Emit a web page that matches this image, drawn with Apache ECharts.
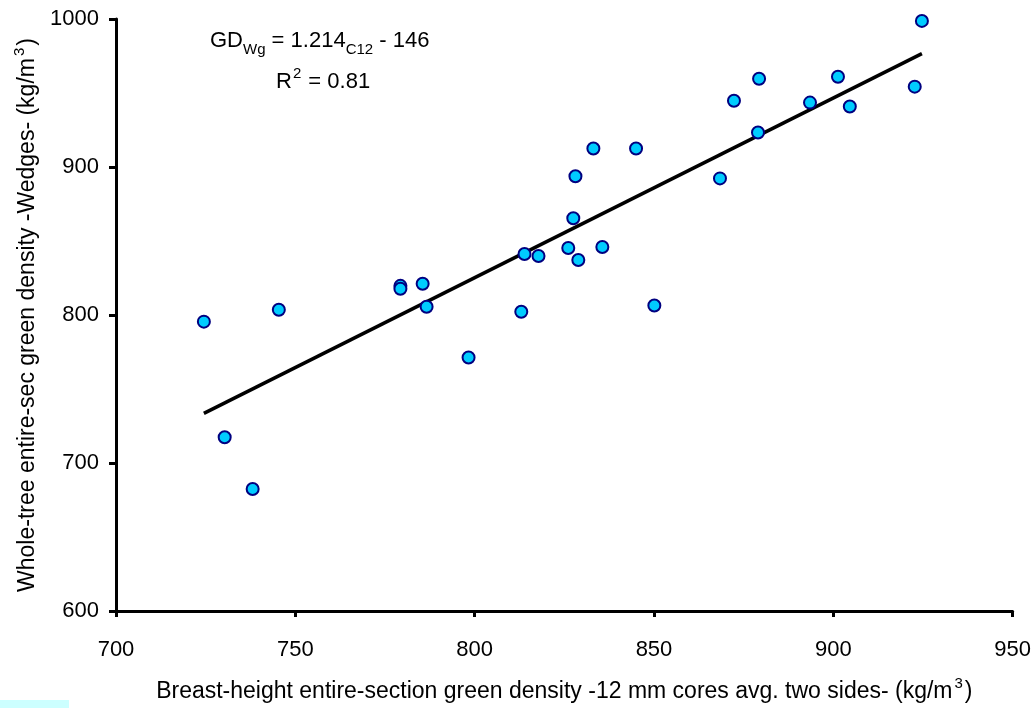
<!DOCTYPE html>
<html>
<head>
<meta charset="utf-8">
<script src="https://cdn.jsdelivr.net/npm/echarts@6/dist/echarts.min.js"></script>
<style>html,body{margin:0;padding:0;background:#fff;}#c{width:1034px;height:708px;}</style>
</head>
<body>
<div id="c"></div>
<script>
// Breast-height core density (x) and whole-tree wedge density (y), kg/m3
const coreDensity = [724.5, 730.3, 738.1, 745.4, 779.3, 779.3, 785.5, 786.6, 798.3, 813.0,
  813.9, 817.8, 826.1, 827.5, 828.1, 828.9, 835.6, 833.1, 850.1, 845.0,
  868.4, 872.3, 879.3, 879.0, 893.5, 901.3, 904.6, 922.7, 924.7];
const wedgeDensity = [795.5, 717.4, 682.4, 803.5, 819.7, 817.7, 821.1, 805.6, 771.3, 802.2,
  841.2, 839.9, 845.3, 865.4, 893.7, 837.2, 845.9, 912.5, 806.4, 912.5,
  892.3, 944.8, 959.6, 923.3, 943.5, 961.0, 940.9, 954.3, 998.7];
const slope = 1.214;
const intercept = -146;
const xTicks = [700, 750, 800, 850, 900, 950];
const yTicks = [600, 700, 800, 900, 1000];

const points = coreDensity.map((x, i) => [x, wedgeDensity[i]]);
const xMin = Math.min(...coreDensity), xMax = Math.max(...coreDensity);
const fitLine = [[xMin, slope * xMin + intercept], [xMax, slope * xMax + intercept]];

const FONT = 'Liberation Sans, Arial, sans-serif';
const nameRich = {
  n: { color: '#000', fontSize: 23, fontFamily: FONT, verticalAlign: 'bottom' },
  sup: { color: '#000', fontSize: 15, fontFamily: FONT, verticalAlign: 'top', padding: [0, 2, 12, 2] }
};
const chart = echarts.init(document.getElementById('c'));
chart.setOption({
  backgroundColor: '#ffffff',
  animation: false,
  grid: { left: 116, right: 20, top: 19, bottom: 94.5, containLabel: false },
  xAxis: {
    type: 'value', min: xTicks[0], max: xTicks[xTicks.length - 1], interval: 50,
    splitLine: { show: false },
    axisLine: { onZero: false, lineStyle: { color: '#000', width: 3 } },
    axisTick: { show: true, length: 6, lineStyle: { color: '#000', width: 3 } },
    axisLabel: { color: '#000', fontSize: 22, fontFamily: FONT, margin: 28, formatter: v => String(v) },
    name: '{n|Breast-height entire-section green density -12 mm cores avg. two sides- (kg/m}{sup|3}{n|)}',
    nameLocation: 'middle', nameGap: 65,
    nameTextStyle: { rich: nameRich }
  },
  yAxis: {
    type: 'value', min: yTicks[0], max: yTicks[yTicks.length - 1], interval: 100,
    splitLine: { show: false },
    axisLine: { onZero: false, lineStyle: { color: '#000', width: 3 } },
    axisTick: { show: true, length: 7, lineStyle: { color: '#000', width: 3 } },
    axisLabel: { color: '#000', fontSize: 22, fontFamily: FONT, margin: 17, formatter: v => String(v) },
    name: '{n|Whole-tree entire-sec green density -Wedges- (kg/m}{sup|3}{n|)}',
    nameLocation: 'middle', nameGap: 57, nameRotate: 90,
    nameTextStyle: { rich: nameRich }
  },
  series: [
    {
      type: 'line', data: fitLine, symbol: 'none', silent: true,
      lineStyle: { color: '#000', width: 3.5 }, z: 2
    },
    {
      type: 'scatter', data: points, symbol: 'circle', symbolSize: 12,
      itemStyle: { color: '#00ccff', borderColor: '#000080', borderWidth: 2, opacity: 1 }, z: 3
    }
  ],
  graphic: [
    {
      type: 'text', left: 210, top: 30,
      style: {
        text: '{n|GD}{sub|Wg}{n| = 1.214}{sub|C12}{n| - 146}',
        rich: {
          n: { fill: '#000', fontSize: 22, fontFamily: FONT, verticalAlign: 'bottom' },
          sub: { fill: '#000', fontSize: 15, fontFamily: FONT, verticalAlign: 'bottom', padding: [0, 0, -5, 0] }
        }
      }
    },
    {
      type: 'text', left: 276, top: 66,
      style: {
        text: '{n|R}{sup|2}{n| = 0.81}',
        rich: {
          n: { fill: '#000', fontSize: 22, fontFamily: FONT, verticalAlign: 'bottom' },
          sup: { fill: '#000', fontSize: 15, fontFamily: FONT, verticalAlign: 'top', padding: [0, 1, 12, 1] }
        }
      }
    },
    {
      type: 'rect', left: 0, top: 700, shape: { width: 69, height: 8 },
      style: { fill: '#ccffff' }, silent: true
    }
  ]
});
</script>
</body>
</html>
